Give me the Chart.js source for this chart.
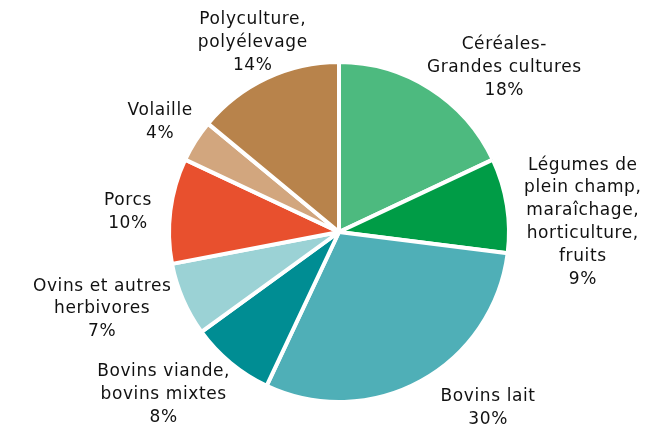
<!DOCTYPE html>
<html>
<head>
<meta charset="utf-8">
<script src="https://cdn.jsdelivr.net/npm/chart.js@4"></script>
<style>
  html, body { margin: 0; padding: 0; background: #fff; }
  #wrap { width: 663px; height: 432px; }
</style>
</head>
<body>
<div id="wrap"><canvas id="pie-chart" width="663" height="432"></canvas></div>
<script>
// Répartition des exploitations par orientation technique

const LABELS = [
  'Céréales-\nGrandes cultures',
  'Légumes de\nplein champ,\nmaraîchage,\nhorticulture,\nfruits',
  'Bovins lait',
  'Bovins viande,\nbovins mixtes',
  'Ovins et autres\nherbivores',
  'Porcs',
  'Volaille',
  'Polyculture,\npolyélevage'
];
const SHARES = [18, 9, 30, 8, 7, 10, 4, 14];
const COLORS = ['#4dba7f', '#009c46', '#4fafb7', '#008d93', '#9bd2d5', '#e8502e', '#d2a67e', '#b8834b'];

// label layout: turn away from the slice middle (deg) and distance past the rim (px)
const LABEL_TURN = [12.8, 6.7, -11.4, 7.6, 5.4, -1.8, -0.8, 0.7];
const LABEL_GAP = [63, 74, 61, 69, 79, 42, 40, 38];

const FONT = '17px "DejaVu Sans", Verdana, sans-serif';
const LINE_H = 22.8;

const outsideLabels = {
  id: 'outsideLabels',
  afterDatasetsDraw(chart) {
    const ctx = chart.ctx;
    const arcs = chart.getDatasetMeta(0).data;
    ctx.save();
    ctx.font = FONT;
    ctx.letterSpacing = '0.6px';
    ctx.fillStyle = '#111111';
    ctx.textAlign = 'center';
    ctx.textBaseline = 'middle';
    arcs.forEach((arc, i) => {
      const lines = LABELS[i].split('\n').concat(SHARES[i] + '%');
      const h = (lines.length - 1) * LINE_H;
      const mid = (arc.startAngle + arc.endAngle) / 2 + LABEL_TURN[i] * Math.PI / 180;
      const d = arc.outerRadius + LABEL_GAP[i];
      const cx = arc.x + Math.cos(mid) * d;
      const cy = arc.y + Math.sin(mid) * d;
      lines.forEach((l, j) => {
        ctx.fillText(l, cx, cy - h / 2 + LINE_H * j);
      });
    });
    ctx.restore();
  }
};

new Chart(document.getElementById('pie-chart').getContext('2d'), {
  type: 'pie',
  data: {
    labels: LABELS,
    datasets: [{
      data: SHARES,
      backgroundColor: COLORS,
      borderColor: '#ffffff',
      borderWidth: 4,
    }]
  },
  options: {
    responsive: false,
    animation: false,
    radius: 170,
    layout: { padding: { left: 15, right: 0, top: 32, bottom: 0 } },
    plugins: { legend: { display: false }, tooltip: { enabled: false } }
  },
  plugins: [outsideLabels]
});
</script>
</body>
</html>
